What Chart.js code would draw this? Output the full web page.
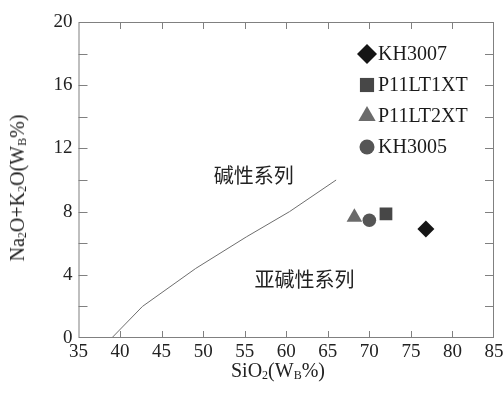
<!DOCTYPE html>
<html>
<head>
<meta charset="utf-8">
<script src="https://cdn.jsdelivr.net/npm/chart.js@4/dist/chart.umd.min.js"></script>
<style>
    body { margin: 0; background: #fff; }
    #wrap { position: relative; width: 503px; height: 395px; }
    .ttl { position: absolute; font-family: "Liberation Serif", serif; font-size: 20px; color: #222; white-space: nowrap; }
    .ttl sub { font-size: 12px; vertical-align: -2px; }
    #xTitle { left: 278px; top: 371px; transform: translate(-50%, -50%); }
    #yTitle { left: 18px; top: 188px; transform: translate(-50%, -50%) rotate(-90deg); }
</style>
</head>
<body>
<div id="wrap">
    <canvas id="tasChart" width="503" height="395"></canvas>
    <div class="ttl" id="xTitle">SiO<sub>2</sub>(W<sub>B</sub>%)</div>
    <div class="ttl" id="yTitle">Na<sub>2</sub>O+K<sub>2</sub>O(W<sub>B</sub>%)</div>
</div>
<script>
// boundary line (alkaline / subalkaline)
const boundarySiO2 = [39, 42.7, 49.1, 55.2, 60.4, 66];
const boundaryAlk = [0, 2.0, 4.4, 6.4, 8.0, 10.0];

// samples
const sampleNames = ['KH3007', 'P11LT1XT', 'P11LT2XT', 'KH3005'];
const sampleSiO2 = [76.8, 72.0, 68.2, 70.0];
const sampleAlk = [6.9, 7.86, 7.64, 7.45];
const sampleStyles = ['rectRot', 'rect', 'triangle', 'circle'];
const sampleColors = ['#151515', '#474747', '#6b6b6b', '#555555'];
const sampleRadius = [8.5, 9, 9, 6.8];

// region labels
const regionLabels = ['碱性系列', '亚碱性系列'];
const regionX = [56.1, 62.2];
const regionY = [10.3, 3.7];

// axis ticks
const xTicks = [35, 40, 45, 50, 55, 60, 65, 70, 75, 80, 85];
const yMinorTicks = [0, 2, 4, 6, 8, 10, 12, 14, 16, 18, 20];

const datasets = [{
    type: 'line',
    label: 'boundary',
    data: boundarySiO2.map((x, i) => ({ x, y: boundaryAlk[i] })),
    borderColor: '#6e6e6e',
    borderWidth: 1,
    pointRadius: 0,
    tension: 0
}];
sampleNames.forEach((name, i) => {
    datasets.push({
        type: 'scatter',
        label: name,
        data: [{ x: sampleSiO2[i], y: sampleAlk[i] }],
        pointStyle: sampleStyles[i],
        backgroundColor: sampleColors[i],
        borderColor: sampleColors[i],
        borderWidth: 0,
        pointRadius: sampleRadius[i]
    });
});

const frame = {
    id: 'frame',
    afterDraw(chart) {
        const { ctx, chartArea: a, scales: { x, y } } = chart;
        ctx.save();
        ctx.strokeStyle = '#808080';
        ctx.lineWidth = 1;
        ctx.strokeRect(a.left + 0.5, a.top + 0.5, a.right - a.left - 1, a.bottom - a.top - 1);
        ctx.beginPath();
        xTicks.slice(1, -1).forEach(v => {
            const px = Math.round(x.getPixelForValue(v)) + 0.5;
            ctx.moveTo(px, a.bottom); ctx.lineTo(px, a.bottom - 7);
            ctx.moveTo(px, a.top); ctx.lineTo(px, a.top + 7);
        });
        yMinorTicks.slice(1, -1).forEach(v => {
            const py = Math.round(y.getPixelForValue(v)) + 0.5;
            ctx.moveTo(a.left, py); ctx.lineTo(a.left + 9, py);
            ctx.moveTo(a.right, py); ctx.lineTo(a.right - 9, py);
        });
        ctx.stroke();

        // region labels
        ctx.fillStyle = '#222';
        ctx.font = '20px "Noto Sans CJK SC"';
        ctx.textAlign = 'center';
        ctx.textBaseline = 'middle';
        regionLabels.forEach((t, i) => {
            ctx.fillText(t, x.getPixelForValue(regionX[i]), y.getPixelForValue(regionY[i]));
        });

        // legend
        const legX = 367, legTextX = 378, legY0 = 54, legStep = 31;
        ctx.textAlign = 'left';
        ctx.font = '20px "Liberation Serif"';
        sampleNames.forEach((name, i) => {
            const cy = legY0 + i * legStep;
            ctx.fillStyle = sampleColors[i];
            ctx.strokeStyle = sampleColors[i];
            Chart.helpers.drawPoint(ctx, {
                pointStyle: sampleStyles[i],
                radius: sampleStyles[i] === 'circle' ? 7.5 : 10,
                rotation: 0,
                borderWidth: 0
            }, legX, cy);
            ctx.fillStyle = '#1a1a1a';
            ctx.fillText(name, legTextX, cy + 1);
        });
        ctx.restore();
    }
};

new Chart(document.getElementById('tasChart'), {
    data: { datasets },
    options: {
        responsive: false,
        animation: false,
        layout: { padding: { top: 22, right: 9, left: 0, bottom: 0 } },
        plugins: { legend: { display: false }, tooltip: { enabled: false } },
        scales: {
            x: {
                type: 'linear',
                min: 35, max: 85,
                grid: { display: false, drawTicks: false },
                border: { display: false },
                ticks: {
                    stepSize: 5, padding: 3, color: '#222', maxRotation: 0,
                    font: { family: 'Liberation Serif', size: 19 }
                },
                afterFit: s => { s.height = 57; s.paddingLeft = 0; s.paddingRight = 0; }
            },
            y: {
                type: 'linear',
                min: 0, max: 20,
                grid: { display: false, drawTicks: false },
                border: { display: false },
                ticks: {
                    stepSize: 4, padding: 6, color: '#222',
                    font: { family: 'Liberation Serif', size: 19 }
                },
                afterFit: s => { s.width = 78.5; s.paddingTop = 0; s.paddingBottom = 0; }
            }
        }
    },
    plugins: [frame]
});
</script>
</body>
</html>
